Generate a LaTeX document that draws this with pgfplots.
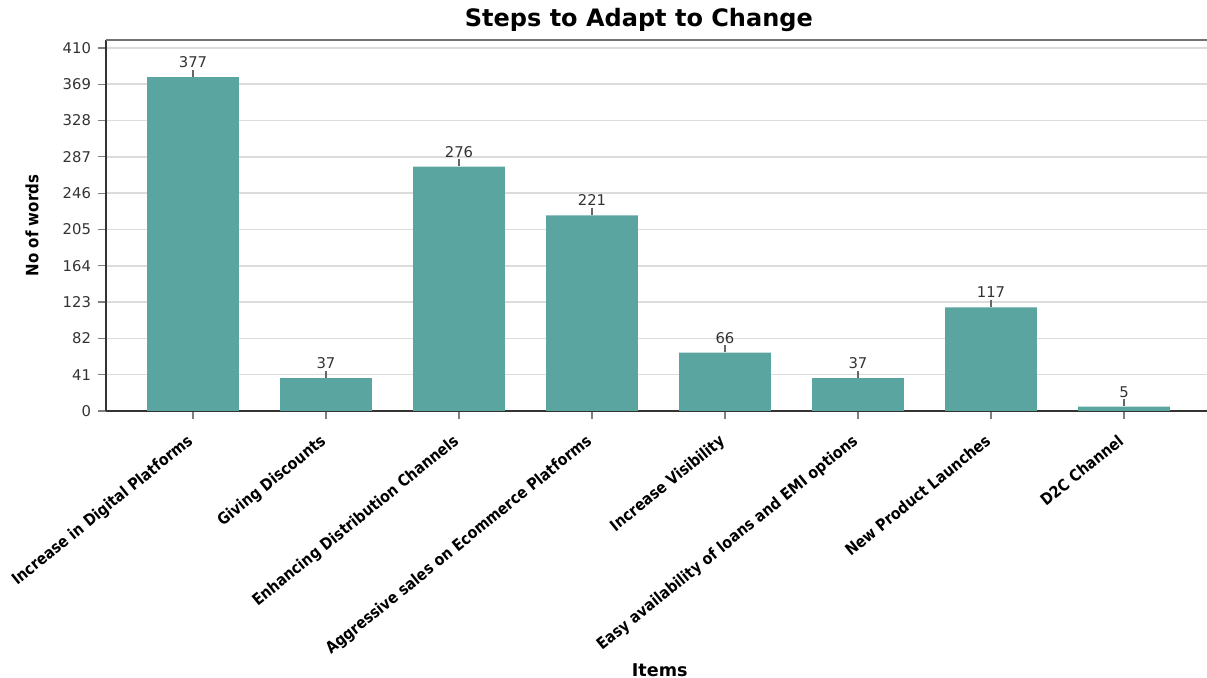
\documentclass[border=0pt]{standalone}
\usepackage{pgfplots}
\pgfplotsset{compat=1.18}
\usepackage{fontspec}
\setmainfont{DejaVu Sans}
\newfontfamily\labfont[FakeStretch=0.88]{DejaVu Sans}
\definecolor{barc}{HTML}{5AA5A0}
\definecolor{gridc}{HTML}{DCDCDC}
\definecolor{txt}{HTML}{333333}
\begin{document}
\begin{tikzpicture}
\begin{axis}[
  scale only axis, width=550.5pt, height=185.5pt,
  xmin=-0.654, xmax=7.624, ymin=0, ymax=419,
  ytick={0,41,...,410},
  xtick={0,...,7},
  xticklabels={Increase in Digital Platforms, Giving Discounts, Enhancing Distribution Channels, Aggressive sales on Ecommerce Platforms, Increase Visibility, Easy availability of loans and EMI options, New Product Launches, D2C Channel},
  x tick label style={xshift=-3.5pt, yshift=-7pt, rotate=39, anchor=north east, inner sep=0pt, font=\labfont\bfseries\fontsize{8}{9}\selectfont},
  y tick label style={font=\fontsize{7.4}{9}\selectfont, text=txt},
  /pgf/number format/assume math mode=true,
  axis x line*=bottom, axis y line*=left,
  axis line style={-, txt, line width=1.2pt},
  tick align=outside, major tick length=4pt,
  tick style={black!50, line width=0.6pt},
  ymajorgrids, grid style={gridc, line width=0.8pt},
  title={Steps to Adapt to Change},
  title style={at={(rel axis cs:0.484,1)}, anchor=base, yshift=0.5pt, font=\bfseries\fontsize{12}{14}\selectfont},
  ylabel={No of words},
  ylabel style={at={(rel axis cs:-0.0672,0.5)}, anchor=center, font=\labfont\bfseries\fontsize{8.5}{10}\selectfont},
  xlabel={Items},
  xlabel style={at={(rel axis cs:0.503,0)}, anchor=center, yshift=-129.5pt, font=\bfseries\fontsize{8.8}{10}\selectfont},
]
\addplot[ybar, fill=barc, draw=none, bar width=0.69,
  nodes near coords={\pgfmathprintnumber{\pgfplotspointmeta}\\[-3.5pt]{\color{black!60}\rule{0.7pt}{3.5pt}}},
  every node near coord/.append style={align=center, anchor=south, inner sep=0pt, font=\fontsize{7.4}{8}\selectfont, text=txt},
] coordinates {(0,377) (1,37) (2,276) (3,221) (4,66) (5,37) (6,117) (7,5)};
\draw[black!55, line width=1.2pt] (rel axis cs:0,1) -- (rel axis cs:1,1);
\end{axis}
\pgfresetboundingbox
\path[use as bounding box] (-53pt,-133.5pt) rectangle (550.5pt,205.5pt);
\end{tikzpicture}
\end{document}
